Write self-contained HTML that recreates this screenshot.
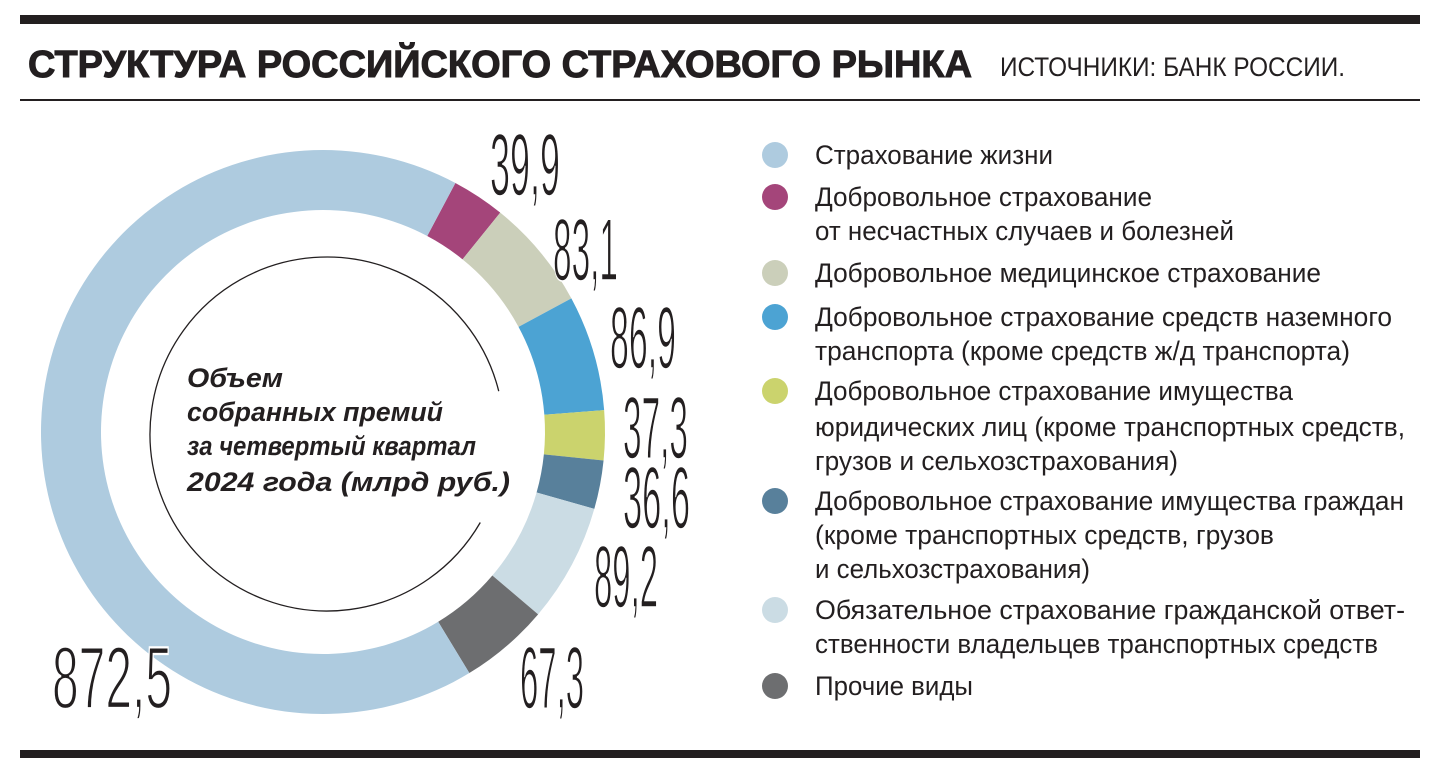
<!DOCTYPE html>
<html><head><meta charset="utf-8"><style>
html,body{margin:0;padding:0;background:#fff;}
svg{display:block;}
text{font-family:"Liberation Sans",sans-serif;fill:#231f20;}
.n{font-size:88px;stroke:#fff;stroke-width:1.6px;}
.l{font-size:27px;}
.c{font-size:27px;font-weight:bold;font-style:italic;}
</style></head><body>
<svg id="s" width="1440" height="759" viewBox="0 0 1440 759" xmlns="http://www.w3.org/2000/svg">
<rect x="20" y="15" width="1400" height="9" fill="#231f20"/>
<rect x="20" y="99" width="1400" height="2" fill="#231f20"/>
<rect x="20" y="750" width="1400" height="8" fill="#231f20"/>
<text x="28" y="77" font-size="38" font-weight="bold" textLength="944" lengthAdjust="spacingAndGlyphs" style="font-weight:900;stroke:#231f20;stroke-width:1px">СТРУКТУРА РОССИЙСКОГО СТРАХОВОГО РЫНКА</text>
<text x="1000" y="76" font-size="27" textLength="345" lengthAdjust="spacingAndGlyphs">ИСТОЧНИКИ: БАНК РОССИИ.</text>
<g id="donut"></g>
<path id="thin" fill="none" stroke="#231f20" stroke-width="1.3"/>
<text class="c" x="187" y="387" textLength="96" lengthAdjust="spacingAndGlyphs">Объем</text>
<text class="c" x="187" y="421" textLength="256" lengthAdjust="spacingAndGlyphs">собранных премий</text>
<text class="c" x="187" y="455" textLength="289" lengthAdjust="spacingAndGlyphs">за четвертый квартал</text>
<text class="c" x="187" y="491" textLength="323" lengthAdjust="spacingAndGlyphs">2024 года (млрд руб.)</text>
<text class="n" x="490" y="195" textLength="70" lengthAdjust="spacingAndGlyphs">39,9</text>
<text class="n" x="553" y="280" textLength="65" lengthAdjust="spacingAndGlyphs">83,1</text>
<text class="n" x="610" y="368" textLength="66" lengthAdjust="spacingAndGlyphs">86,9</text>
<text class="n" x="623" y="458" font-size="84" textLength="65" lengthAdjust="spacingAndGlyphs">37,3</text>
<text class="n" x="623" y="528" font-size="84" textLength="67" lengthAdjust="spacingAndGlyphs">36,6</text>
<text class="n" x="594" y="607" font-size="84" textLength="64" lengthAdjust="spacingAndGlyphs">89,2</text>
<text class="n" x="520" y="708" font-size="84" textLength="64" lengthAdjust="spacingAndGlyphs">67,3</text>
<text class="n" x="52" y="708" font-size="126" textLength="120" lengthAdjust="spacingAndGlyphs" style="stroke-width:2.2px">872,5</text>
<circle cx="775" cy="155" r="13" fill="#aecbdf"/>
<circle cx="775" cy="197" r="13" fill="#a4457a"/>
<circle cx="775" cy="273" r="13" fill="#cbcfba"/>
<circle cx="775" cy="317" r="13" fill="#4ca3d3"/>
<circle cx="775" cy="391" r="13" fill="#cbd36d"/>
<circle cx="775" cy="501" r="13" fill="#58809b"/>
<circle cx="775" cy="610" r="13" fill="#cbdce4"/>
<circle cx="775" cy="686" r="13" fill="#6d6e70"/>
<g class="l">
<text class="l" x="815" y="164" textLength="238" lengthAdjust="spacingAndGlyphs">Страхование жизни</text>
<text class="l" x="815" y="206" textLength="337" lengthAdjust="spacingAndGlyphs">Добровольное страхование</text>
<text class="l" x="815" y="240" textLength="419" lengthAdjust="spacingAndGlyphs">от несчастных случаев и болезней</text>
<text class="l" x="815" y="282" textLength="506" lengthAdjust="spacingAndGlyphs">Добровольное медицинское страхование</text>
<text class="l" x="815" y="326" textLength="577" lengthAdjust="spacingAndGlyphs">Добровольное страхование средств наземного</text>
<text class="l" x="815" y="360" textLength="535" lengthAdjust="spacingAndGlyphs">транспорта (кроме средств ж/д транспорта)</text>
<text class="l" x="815" y="400" textLength="478" lengthAdjust="spacingAndGlyphs">Добровольное страхование имущества</text>
<text class="l" x="815" y="436" textLength="590" lengthAdjust="spacingAndGlyphs">юридических лиц (кроме транспортных средств,</text>
<text class="l" x="815" y="470" textLength="363" lengthAdjust="spacingAndGlyphs">грузов и сельхозстрахования)</text>
<text class="l" x="815" y="510" textLength="589" lengthAdjust="spacingAndGlyphs">Добровольное страхование имущества граждан</text>
<text class="l" x="815" y="544" textLength="459" lengthAdjust="spacingAndGlyphs">(кроме транспортных средств, грузов</text>
<text class="l" x="815" y="578" textLength="275" lengthAdjust="spacingAndGlyphs">и сельхозстрахования)</text>
<text class="l" x="815" y="619" textLength="590" lengthAdjust="spacingAndGlyphs">Обязательное страхование гражданской ответ-</text>
<text class="l" x="815" y="653" textLength="563" lengthAdjust="spacingAndGlyphs">ственности владельцев транспортных средств</text>
<text class="l" x="815" y="695" textLength="158" lengthAdjust="spacingAndGlyphs">Прочие виды</text>
</g>
</svg>
<script>
(function(){
var cx=323,cy=432,R=282,r=222;
var vals=[39.9,83.1,86.9,37.3,36.6,89.2,67.3,872.5];
var cols=["#a4457a","#cbcfba","#4ca3d3","#cbd36d","#58809b","#cbdce4","#6d6e70","#aecbdf"];
var tot=vals.reduce(function(a,b){return a+b},0);
function pt(a,rad){var t=(a-90)*Math.PI/180;return [cx+rad*Math.cos(t),cy+rad*Math.sin(t)];}
var a=28,g=document.getElementById("donut"),h="";
vals.forEach(function(v,i){
 var s=v/tot*360,b=a+s,lg=s>180?1:0;
 var p1=pt(a,R),p2=pt(b,R),p3=pt(b,r),p4=pt(a,r);
 h+='<path fill="'+cols[i]+'" d="M'+p1+' A'+R+','+R+' 0 '+lg+' 1 '+p2+' L'+p3+' A'+r+','+r+' 0 '+lg+' 0 '+p4+' Z"/>';
 a=b;});
g.innerHTML=h;
var cr=177,c0=327,c1=434;
function pt2(a){var t=(a-90)*Math.PI/180;return [c0+cr*Math.cos(t),c1+cr*Math.sin(t)];}
var s=pt2(120),e=pt2(76);
document.getElementById("thin").setAttribute("d","M"+s+" A"+cr+","+cr+" 0 1 1 "+e);
})();
</script>
</body></html>
